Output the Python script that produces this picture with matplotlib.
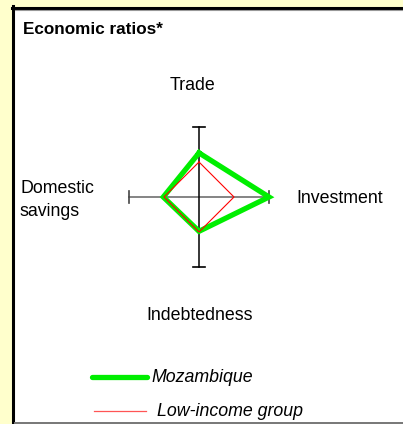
import matplotlib
matplotlib.use("Agg")
import matplotlib.pyplot as plt
import numpy as np
from matplotlib.lines import Line2D
from matplotlib.patches import Rectangle

plt.rcParams['font.family'] = ['Liberation Sans', 'DejaVu Sans']

W, H = 403, 424

# chart data (values relative to the axis length, low-income group = 0.5)
axis_names = ['Trade', 'Investment', 'Indebtedness', 'Domestic\nsavings']
angles_deg = [90, 0, 270, 180]
mozambique = [0.63, 1.0, 0.49, 0.51]
low_income = [0.5, 0.5, 0.5, 0.5]
series_labels = ['Mozambique', 'Low-income group']
title = 'Economic ratios*'


def fx(px):
    return px / W


def fy(py):
    return 1 - py / H


fig = plt.figure(figsize=(W / 100, H / 100), dpi=100)
fig.patch.set_facecolor('#FFFFCC')

# white panel with border (kept behind the axes)
fig.add_artist(Rectangle((fx(14), fy(423)), fx(W) - fx(14), fy(8) - fy(423),
                         transform=fig.transFigure, facecolor='white',
                         edgecolor='none', zorder=-10))
fig.add_artist(Line2D([fx(13.5), fx(13.5)], [fy(6), fy(424)],
                      transform=fig.transFigure, color='black', lw=2.2, zorder=-9))
fig.add_artist(Line2D([fx(12), fx(W)], [fy(7.5), fy(7.5)],
                      transform=fig.transFigure, color='black', lw=2.2, zorder=-9))
fig.add_artist(Line2D([fx(15), fx(W)], [fy(9.5), fy(9.5)],
                      transform=fig.transFigure, color='#999999', lw=0.8, zorder=-9))
fig.add_artist(Line2D([fx(15), fx(W)], [fy(423), fy(423)],
                      transform=fig.transFigure, color='#777777', lw=1.4, zorder=-9))

fig.text(fx(23), fy(30), title, fontsize=12.3, fontweight='bold',
         ha='left', va='center')

# diamond
cx, cy, R = 199, 197, 70
half = 1.2 * R
ax = fig.add_axes([fx(cx - half), fy(cy + half), 2 * half / W, 2 * half / H])
ax.set_xlim(-1.2, 1.2)
ax.set_ylim(-1.2, 1.2)
ax.axis('off')
ax.patch.set_alpha(0)

cap = 0.08
ax.plot([-1, 1], [0, 0], color='#707070', lw=1.2)
ax.plot([0, 0], [-1, 1], color='black', lw=1.1)
for a in angles_deg:
    t = np.deg2rad(a)
    ex, ey = np.cos(t), np.sin(t)
    px, py = -np.sin(t) * cap, np.cos(t) * cap
    ax.plot([ex - px, ex + px], [ey - py, ey + py],
            color='black' if a in (90, 270) else '#444444', lw=1.2)

theta = np.deg2rad(angles_deg + angles_deg[:1])
moz = np.array(mozambique + mozambique[:1])
low = np.array(low_income + low_income[:1])
ax.plot(moz * np.cos(theta), moz * np.sin(theta), color='#00EE00', lw=3.8,
        solid_joinstyle='miter', zorder=3)
ax.plot(low * np.cos(theta), low * np.sin(theta), color='red', lw=0.8,
        solid_joinstyle='miter', zorder=4)

# axis labels
fig.text(fx(192), fy(86), axis_names[0], fontsize=12.8, ha='center', va='center')
fig.text(fx(340), fy(198), axis_names[1], fontsize=12.8, ha='center', va='center')
fig.text(fx(200), fy(315), axis_names[2], fontsize=12.8, ha='center', va='center')
fig.text(fx(20), fy(200), axis_names[3], fontsize=12.8, ha='left', va='center',
         linespacing=1.45)

# legend
fig.add_artist(Line2D([fx(92), fx(147)], [fy(377), fy(377)],
                      transform=fig.transFigure, color='#00EE00', lw=3.8,
                      solid_capstyle='round'))
fig.text(fx(151), fy(378), series_labels[0], fontsize=12.8, style='italic',
         ha='left', va='center')
fig.add_artist(Line2D([fx(94), fx(146)], [fy(410.5), fy(410.5)],
                      transform=fig.transFigure, color='#FF5555', lw=0.9))
fig.text(fx(157), fy(411), series_labels[1], fontsize=12.8, style='italic',
         ha='left', va='center')

fig.savefig('out.png', dpi=100, facecolor=fig.get_facecolor())
